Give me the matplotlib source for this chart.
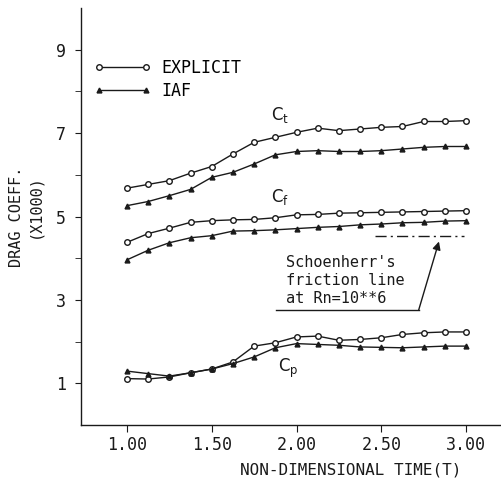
import matplotlib.pyplot as plt

time = [1.000, 1.125, 1.250, 1.375, 1.500, 1.625, 1.750, 1.875, 2.000,
        2.125, 2.250, 2.375, 2.500, 2.625, 2.750, 2.875, 3.000]

ct_explicit = [5.68, 5.77, 5.86, 6.04, 6.20, 6.50, 6.78, 6.90, 7.02,
               7.12, 7.06, 7.10, 7.14, 7.16, 7.28, 7.28, 7.30]
ct_iaf = [5.26, 5.36, 5.50, 5.65, 5.94, 6.06, 6.26, 6.48, 6.56,
          6.58, 6.56, 6.56, 6.58, 6.62, 6.66, 6.68, 6.68]

cf_explicit = [4.38, 4.59, 4.72, 4.86, 4.90, 4.92, 4.93, 4.97, 5.04,
               5.05, 5.08, 5.09, 5.10, 5.11, 5.12, 5.13, 5.14]
cf_iaf = [3.96, 4.19, 4.37, 4.49, 4.54, 4.65, 4.66, 4.68, 4.71,
          4.74, 4.76, 4.80, 4.82, 4.85, 4.86, 4.89, 4.90]

cp_explicit = [1.11, 1.10, 1.15, 1.25, 1.34, 1.51, 1.89, 1.97, 2.11,
               2.13, 2.03, 2.05, 2.09, 2.17, 2.21, 2.23, 2.23]
cp_iaf = [1.29, 1.23, 1.17, 1.25, 1.34, 1.47, 1.63, 1.85, 1.95,
          1.93, 1.91, 1.87, 1.86, 1.85, 1.87, 1.89, 1.89]

schoenherr_x = [2.46, 2.99]
schoenherr_y = [4.54, 4.54]

x_ticks = [1.0, 1.5, 2.0, 2.5, 3.0]
x_labels = ['1.00', '1.50', '2.00', '2.50', '3.00']
y_ticks = [1, 3, 5, 7, 9]
y_minor = [2, 4, 6, 8]

ink = '#1a1a1a'
mono = 'DejaVu Sans Mono'

fig = plt.figure(figsize=(5.01, 4.79), dpi=100)
ax = fig.add_axes([0.162, 0.113, 0.836, 0.870])

ax.plot(time, ct_explicit, color=ink, lw=1.0, marker='o', ms=4,
        mfc='white', mec=ink, mew=1.0, label='EXPLICIT')
ax.plot(time, ct_iaf, color=ink, lw=1.0, marker='^', ms=3.5,
        mfc=ink, mec=ink, label='IAF')
ax.plot(time, cf_explicit, color=ink, lw=1.0, marker='o', ms=4,
        mfc='white', mec=ink, mew=1.0)
ax.plot(time, cf_iaf, color=ink, lw=1.0, marker='^', ms=3.5,
        mfc=ink, mec=ink)
ax.plot(time, cp_explicit, color=ink, lw=1.0, marker='o', ms=4,
        mfc='white', mec=ink, mew=1.0)
ax.plot(time, cp_iaf, color=ink, lw=1.0, marker='^', ms=3.5,
        mfc=ink, mec=ink)

ax.plot(schoenherr_x, schoenherr_y, color=ink, lw=1.0, ls=(0, (8, 3, 1.5, 3)))

ax.text(1.85, 7.32, r'C$_\mathregular{t}$', fontsize=12, color=ink)
ax.text(1.85, 5.36, r'C$_\mathregular{f}$', fontsize=12, color=ink)
ax.text(1.89, 1.28, r'C$_\mathregular{p}$', fontsize=12, color=ink)

# Schoenherr annotation
ax.text(1.94, 2.86, "Schoenherr's\nfriction line\nat Rn=10**6",
        family=mono, fontsize=11, color=ink,
        linespacing=1.25, va='bottom', ha='left')
ax.plot([1.88, 2.72], [2.75, 2.75], color=ink, lw=1.0)
ax.annotate('', xy=(2.84, 4.40), xytext=(2.72, 2.75),
            arrowprops=dict(arrowstyle='-|>', color=ink, lw=1.0,
                            mutation_scale=12, shrinkA=0, shrinkB=0))

ax.set_xlim(0.73, 3.2)
ax.set_ylim(0, 10)
ax.set_xticks(x_ticks)
ax.set_xticklabels(x_labels, family=mono)
ax.set_yticks(y_ticks)
ax.set_yticklabels([str(v) for v in y_ticks], family=mono)
ax.set_yticks(y_minor, minor=True)
ax.tick_params(axis='both', which='both', direction='out', color=ink,
               labelsize=12, labelcolor=ink)
ax.tick_params(axis='y', which='both', length=4, pad=7)
ax.tick_params(axis='x', length=5, pad=3)

for side in ['top', 'right']:
    ax.spines[side].set_visible(False)
for side in ['left', 'bottom']:
    ax.spines[side].set_color(ink)
    ax.spines[side].set_linewidth(1.0)

fig.text(0.70, 0.019, 'NON-DIMENSIONAL TIME(T)', family=mono, fontsize=11.5,
         color=ink, ha='center', va='center')
fig.text(0.032, 0.547, 'DRAG COEFF.', family=mono, fontsize=11,
         color=ink, ha='center', va='center', rotation=90)
fig.text(0.070, 0.570, '(X1000)', family=mono, fontsize=11,
         color=ink, ha='center', va='center', rotation=90)

ax.legend(loc='upper left', bbox_to_anchor=(-0.004, 0.915), frameon=False,
          prop={'family': mono, 'size': 12}, handlelength=3.4,
          handletextpad=0.6, labelspacing=0.3, numpoints=2)

fig.savefig('out.png', dpi=100)
